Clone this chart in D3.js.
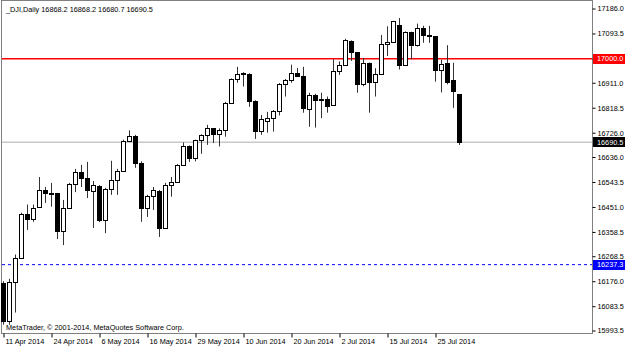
<!DOCTYPE html>
<html><head><meta charset="utf-8">
<script src="https://cdn.jsdelivr.net/npm/d3@7"></script>
<style>
html,body{margin:0;padding:0;background:#fff;}
svg{display:block;}
text{font-family:"Liberation Sans",Arial,sans-serif;}
</style></head><body>
<svg id="c" width="625" height="347"></svg>
<script>
const dates = ["2014-04-11","2014-04-14","2014-04-15","2014-04-16","2014-04-17","2014-04-21","2014-04-22","2014-04-23","2014-04-24","2014-04-25",
"2014-04-28","2014-04-29","2014-04-30","2014-05-01","2014-05-02","2014-05-05","2014-05-06","2014-05-07","2014-05-08","2014-05-09",
"2014-05-12","2014-05-13","2014-05-14","2014-05-15","2014-05-16","2014-05-19","2014-05-20","2014-05-21","2014-05-22","2014-05-23",
"2014-05-27","2014-05-28","2014-05-29","2014-05-30","2014-06-02","2014-06-03","2014-06-04","2014-06-05","2014-06-06",
"2014-06-09","2014-06-10","2014-06-11","2014-06-12","2014-06-13","2014-06-16","2014-06-17","2014-06-18","2014-06-19","2014-06-20",
"2014-06-23","2014-06-24","2014-06-25","2014-06-26","2014-06-27","2014-06-30","2014-07-01","2014-07-02","2014-07-03",
"2014-07-07","2014-07-08","2014-07-09","2014-07-10","2014-07-11","2014-07-14","2014-07-15","2014-07-16","2014-07-17","2014-07-18",
"2014-07-21","2014-07-22","2014-07-23","2014-07-24","2014-07-25","2014-07-28","2014-07-29","2014-07-30","2014-07-31"];
const open  = [16170,16027,16173,16263,16425,16408,16450,16514,16503,16501,16362,16449,16535,16581,16559,16510,16530,16401,16519,16550,
16584,16696,16714,16613,16447,16491,16511,16374,16533,16543,16606,16675,16633,16698,16718,16742,16720,16737,16836,
16924,16943,16945,16843,16734,16771,16779,16806,16907,16921,16946,16935,16814,16867,16846,16851,16828,16956,16977,
17067,17024,16907,16985,16915,16945,17055,17062,17125,16978,17100,17052,17114,17087,17083,16960,16983,16920,16868.2];
const high  = [16176,16185,16275,16430,16460,16460,16562,16525,16540,16503,16477,16540,16592,16607,16618,16547,16532,16522,16622,16592,
16700,16735,16718,16620,16496,16525,16514,16540,16562,16610,16690,16679,16700,16720,16755,16743,16742,16840,16927,
16970,16950,16946,16846,16792,16803,16810,16910,16925,16978,16966,16970,16874,16870,16874,16860,16998,16990,17074,
17068,17025,17003,16986,16965,17088,17120,17140,17151,17101,17100,17130,17122,17122,17083,16996,17050,16985,16868.2];
const low   = [16015,16015,16060,16262,16366,16396,16449,16466,16452,16332,16310,16448,16506,16525,16484,16373,16395,16354,16496,16496,
16583,16692,16596,16396,16414,16440,16340,16370,16489,16540,16604,16618,16620,16648,16681,16688,16675,16711,16835,
16911,16897,16822,16703,16718,16726,16730,16790,16860,16911,16933,16800,16748,16745,16780,16800,16828,16940,16976,
16992,16874,16898,16800,16860,16945,17010,17062,16960,16975,16998,17045,17059,17059,16915,16875,16905,16818,16680.7];
const close = [16027,16173,16262,16425,16408,16449,16514,16501,16501,16361,16449,16535,16581,16559,16513,16531,16401,16518,16551,16583,
16695,16715,16614,16447,16491,16512,16374,16533,16543,16606,16675,16633,16698,16717,16743,16722,16737,16836,16924,
16943,16946,16844,16734,16776,16781,16808,16906,16921,16947,16937,16818,16867,16846,16851,16826,16956,16976,17068,
17024,16906,16985,16915,16944,17055,17061,17138,16977,17100,17052,17114,17087,17083,16960,16982,16912,16880,16690.5];
const priceTicks = [17186.0,17093.5,17000.0,16911.0,16818.5,16726.0,16636.0,16543.5,16451.0,16358.5,16268.5,16176.0,16083.5,15993.5];
const dateTicks = ["2014-04-11","2014-04-24","2014-05-06","2014-05-16","2014-05-29","2014-06-10","2014-06-20","2014-07-02","2014-07-15","2014-07-25"];
const dateTickLabels = ["11 Apr 2014","24 Apr 2014","6 May 2014","16 May 2014","29 May 2014","10 Jun 2014","20 Jun 2014","2 Jul 2014","15 Jul 2014","25 Jul 2014"];
const title = "_DJI,Daily  16868.2 16868.2 16680.7 16690.5";
const copyright = "MetaTrader, \u00A9 2001-2014, MetaQuotes Software Corp.";
const levels = [
  {value:17000.0, color:"#ff0000", dash:null, width:1.6, label:"17000.0", bg:"#ff0000"},
  {value:16690.5, color:"#c8c8c8", dash:null, width:1.5, label:"16690.5", bg:"#000000"},
  {value:16237.3, color:"#0000ff", dash:"3,3", width:1, label:"16237.3", bg:"#0000ff"}
];

const svg = d3.select("#c");
const W = 625, H = 347;
const plotL = 1, plotR = 592, plotT = 0, plotB = 333;
const fs = "7.3px";

const x = d3.scalePoint().domain(dates).range([3, 3 + 6*(dates.length-1)]);
const y = d3.scaleLinear().domain([15993.5, 17186.0]).range([330.5, 8.5]);

const data = dates.map((d,i)=>({d, o:open[i], h:high[i], l:low[i], c:close[i]}));

// frame
svg.append("rect").attr("x", plotL+0.5).attr("y", plotT+0.5)
  .attr("width", plotR-plotL).attr("height", plotB-plotT)
  .attr("fill","#fff").attr("stroke","#808080").attr("stroke-width",1);

// level lines
const lv = svg.append("g");
levels.forEach(L=>{
  const yy = y(L.value);
  const ln = lv.append("line").attr("x1", plotL+1).attr("x2", plotR).attr("y1", yy).attr("y2", yy)
    .attr("stroke", L.color).attr("stroke-width", L.width);
  if (L.dash) ln.attr("stroke-dasharray", L.dash);
});

// candles
const px = v => Math.round(v);
const g = svg.append("g");
const cg = g.selectAll("g.c").data(data).enter().append("g");
cg.append("line")
  .attr("x1", d=>px(x(d.d))+0.5).attr("x2", d=>px(x(d.d))+0.5)
  .attr("y1", d=>y(d.h)).attr("y2", d=>y(d.l))
  .attr("stroke","#333").attr("stroke-width",1);
cg.append("rect")
  .attr("x", d=>px(x(d.d))-2+0.5)
  .attr("width", 4)
  .attr("y", d=>Math.round(y(Math.max(d.o,d.c)))+0.5)
  .attr("height", d=>Math.max(1, Math.round(y(Math.min(d.o,d.c))) - Math.round(y(Math.max(d.o,d.c)))))
  .attr("fill", d=> d.c >= d.o ? "#fff" : "#000")
  .attr("stroke","#000").attr("stroke-width",1);

// right axis
const ya = d3.axisRight(y).tickValues(priceTicks).tickFormat(d3.format(".1f")).tickSize(3).tickPadding(2);
const yg = svg.append("g").attr("transform",`translate(${plotR+0.5},0)`).call(ya);
yg.select(".domain").remove();
yg.selectAll("line").attr("stroke","#000");
yg.selectAll("text").attr("font-size",fs).attr("fill","#000").attr("font-family",'"Liberation Sans",Arial,sans-serif');

// bottom axis
const xa = d3.axisBottom(x).tickValues(dateTicks).tickFormat((d,i)=>dateTickLabels[i]).tickSize(4).tickPadding(1);
const xg = svg.append("g").attr("transform",`translate(0.5,${plotB+0.5})`).call(xa);
xg.select(".domain").remove();
xg.selectAll("line").attr("stroke","#000");
xg.selectAll("text").attr("font-size",fs).attr("fill","#000").attr("text-anchor","start").attr("dx","1.5")
  .attr("font-family",'"Liberation Sans",Arial,sans-serif');

// level labels
levels.forEach(L=>{
  const yy = y(L.value);
  svg.append("rect").attr("x", plotR+1).attr("y", Math.round(yy)-5).attr("width", W-plotR-1).attr("height", 10).attr("fill", L.bg);
  svg.append("text").attr("x", plotR+5).attr("y", yy+2.6).attr("font-size",fs).attr("fill","#fff").text(L.label);
});

// header and copyright
svg.append("text").attr("x",6).attr("y",12).attr("font-size",fs).attr("fill","#000").text(title);
svg.append("text").attr("x",6).attr("y",330).attr("font-size",fs).attr("fill","#000").text(copyright);
</script>
</body></html>
